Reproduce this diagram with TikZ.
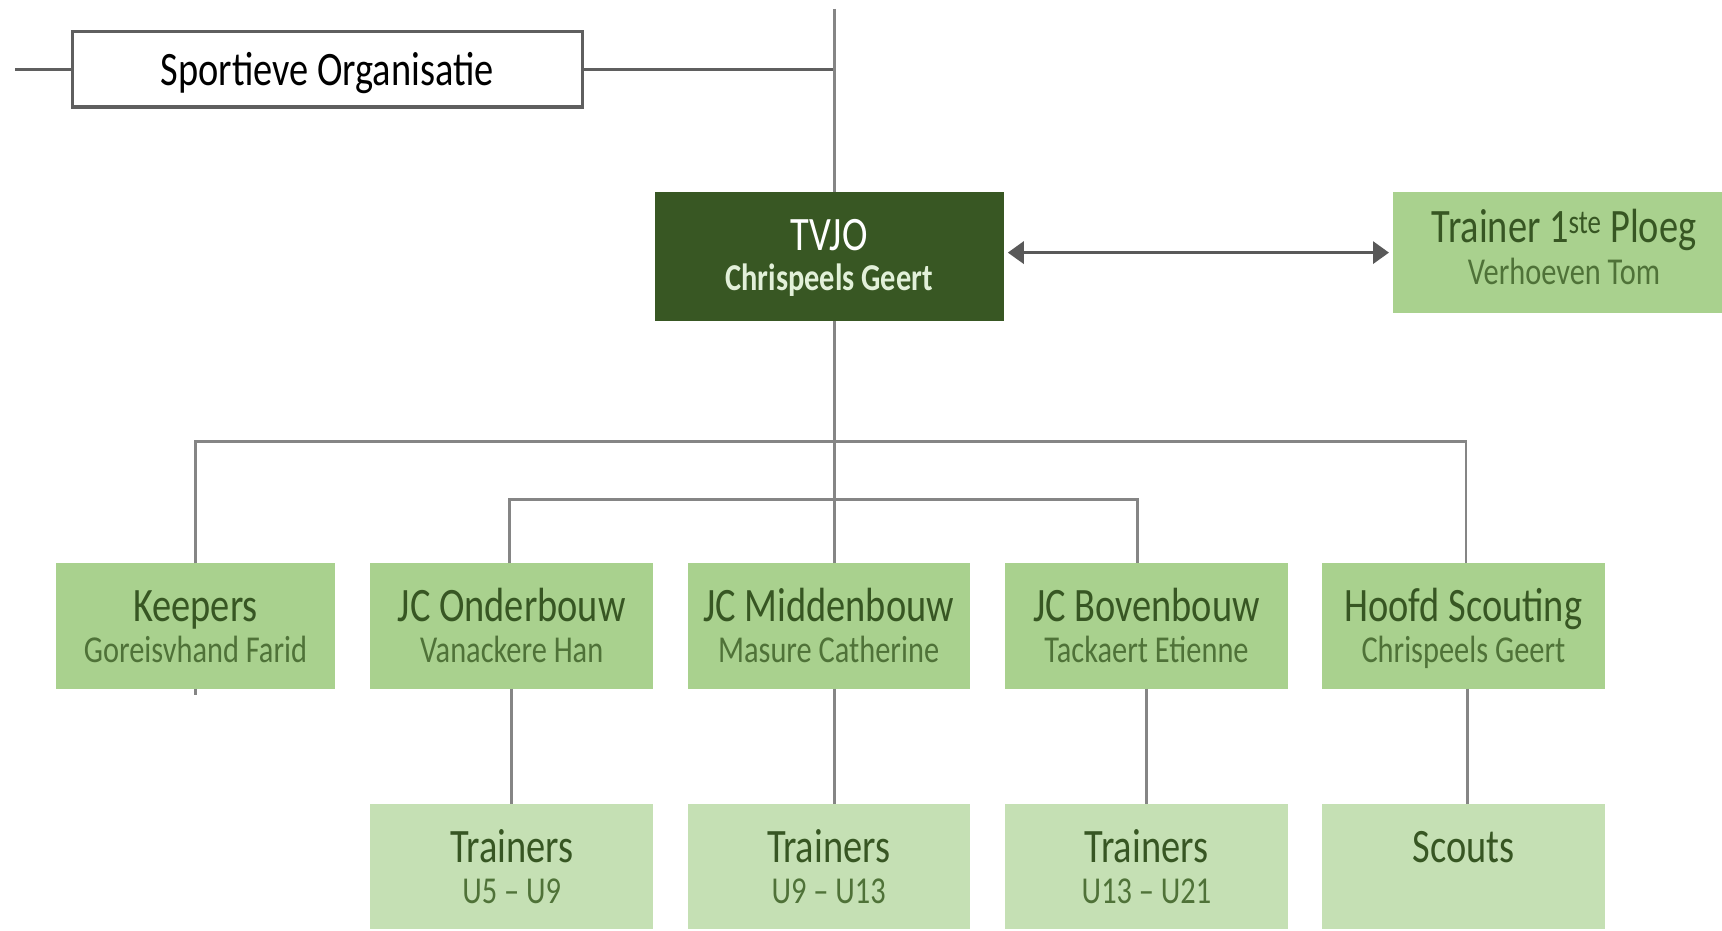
\documentclass[tikz,border=0pt]{standalone}
\usepackage{fontspec}
\usetikzlibrary{calc,arrows.meta}
\newfontfamily\calib{Carlito}[FakeStretch=0.8]
\definecolor{darkgreen}{HTML}{385723}
\definecolor{lightgreen}{HTML}{A9D18E}
\definecolor{palegreen}{HTML}{C5E0B4}
\definecolor{ttlgreen}{HTML}{375623}
\definecolor{subgreen}{HTML}{4F7238}
\definecolor{tvjosub}{HTML}{E2F0D9}
\definecolor{linegray}{HTML}{858585}
\definecolor{bordergray}{HTML}{5F5F5F}
\definecolor{arrowgray}{HTML}{595959}
\tikzset{
  box/.style={inner sep=0pt, outer sep=0pt},
  lightbox/.style={box, fill=lightgreen},
  palebox/.style={box, fill=palegreen},
  rowbox/.style={lightbox, minimum height=125.2pt},
  botbox/.style={palebox, minimum height=125pt},
  ttl/.style={anchor=base, inner sep=0pt, font=\calib\fontsize{48}{50}\selectfont, text=ttlgreen},
  sub/.style={anchor=base, inner sep=0pt, font=\calib\fontsize{38}{40}\selectfont, text=subgreen},
  conn/.style={draw=linegray, line width=2.6pt},
  headline/.style={draw=bordergray, line width=3pt},
}
\begin{document}
\begin{tikzpicture}[x=1pt,y=-1pt]
\useasboundingbox (0,0) rectangle (1722,930);
\clip (0,0) rectangle (1722,930);
% top box
\node[box, draw=bordergray, line width=3.5pt, fill=white, minimum width=510pt, minimum height=75.5pt] (sport) at (327.25,69.2) {};
\node[anchor=base, inner sep=0pt, font=\calib\fontsize{48}{50}\selectfont, text=black] (sportT) at ($(sport.north)+(0,54)$) {Sportieve Organisatie};
% TVJO
\node[box, fill=darkgreen, minimum width=349.3pt, minimum height=128.5pt] (tvjo) at (829.15,256.45) {};
\node[ttl, text=white] (tvjoT) at ($(tvjo.north)+(0,58)$) {TVJO};
\node[sub, text=tvjosub, font=\calib\bfseries\fontsize{38}{40}\selectfont] (tvjoS) at ($(tvjo.north)+(0,98)$) {Chrispeels Geert};
% Trainer 1ste ploeg
\node[lightbox, minimum width=343pt, minimum height=120.8pt] (trainer) at (1564,252.6) {};
\node[ttl] (trainerT) at ($(trainer.north)+(0,50.5)$) {Trainer 1\textsuperscript{ste} Ploeg};
\node[sub] (trainerS) at ($(trainer.north)+(0,92)$) {Verhoeven Tom};
% row boxes
\node[rowbox, minimum width=279pt] (keepers) at (195.5,626) {};
\node[rowbox, minimum width=283.4pt] (onder) at (511.7,626) {};
\node[rowbox, minimum width=282.2pt] (mid) at (828.6,626) {};
\node[rowbox, minimum width=283.3pt] (boven) at (1146.5,626) {};
\node[rowbox, minimum width=282.3pt] (hoofd) at (1463.4,626) {};
\node[ttl] (keepersT) at ($(keepers.north)+(0,58)$) {Keepers};
\node[sub] (keepersS) at ($(keepers.north)+(0,99)$) {Goreisvhand Farid};
\node[ttl] (onderT) at ($(onder.north)+(0,58)$) {JC Onderbouw};
\node[sub] (onderS) at ($(onder.north)+(0,99)$) {Vanackere Han};
\node[ttl] (midT) at ($(mid.north)+(0,58)$) {JC Middenbouw};
\node[sub] (midS) at ($(mid.north)+(0,99)$) {Masure Catherine};
\node[ttl] (bovenT) at ($(boven.north)+(0,58)$) {JC Bovenbouw};
\node[sub] (bovenS) at ($(boven.north)+(0,99)$) {Tackaert Etienne};
\node[ttl] (hoofdT) at ($(hoofd.north)+(0,58)$) {Hoofd Scouting};
\node[sub] (hoofdS) at ($(hoofd.north)+(0,99)$) {Chrispeels Geert};
% bottom boxes
\node[botbox, minimum width=283.4pt] (tr1) at (511.7,866.4) {};
\node[botbox, minimum width=282.2pt] (tr2) at (828.6,866.4) {};
\node[botbox, minimum width=283.3pt] (tr3) at (1146.5,866.4) {};
\node[botbox, minimum width=282.3pt] (scouts) at (1463.4,866.4) {};
\node[ttl] (tr1T) at ($(tr1.north)+(0,59)$) {Trainers};
\node[sub] (tr1S) at ($(tr1.north)+(0,100)$) {U5 – U9};
\node[ttl] (tr2T) at ($(tr2.north)+(0,59)$) {Trainers};
\node[sub] (tr2S) at ($(tr2.north)+(0,100)$) {U9 – U13};
\node[ttl] (tr3T) at ($(tr3.north)+(0,59)$) {Trainers};
\node[sub] (tr3S) at ($(tr3.north)+(0,100)$) {U13 – U21};
\node[ttl] (scoutsT) at ($(scouts.north)+(0,59)$) {Scouts};
% coordinates
\coordinate (top) at (834.6,8.8);
\coordinate (spineS) at (834.6,69.2);
\coordinate (leftend) at (15.4,69.2);
\coordinate (j1) at (834.6,441.5);
\coordinate (j2) at (834.6,499.7);
\coordinate (kstub) at ($(keepers.south)+(0,6)$);
% connectors
\draw[headline] (leftend) -- (sport.west);
\draw[headline] (sport.east) -- (spineS);
\draw[conn] (top) -- (top |- tvjo.north);
\draw[conn] (top |- tvjo.south) -- (top |- mid.north);
\draw[conn] (keepers.north) |- (j1) -| ([xshift=2.6pt]hoofd.north);
\draw[conn] ([xshift=-2pt]onder.north) |- (j2) -| ([xshift=-8.8pt]boven.north);
\draw[conn] (keepers.south) -- (kstub);
\draw[conn] (onder.south) -- (tr1.north);
\draw[conn] (top |- mid.south) -- (top |- tr2.north);
\draw[conn] (boven.south) -- (tr3.north);
\draw[conn] ([xshift=4pt]hoofd.south) -- ([xshift=4pt]scouts.north);
\draw[draw=arrowgray, line width=3.3pt, {Triangle[length=16pt,width=22pt]}-{Triangle[length=16pt,width=22pt]}]
  ([xshift=4pt]tvjo.east |- trainer.west) -- ([xshift=-3.5pt]trainer.west);
\end{tikzpicture}
\end{document}
